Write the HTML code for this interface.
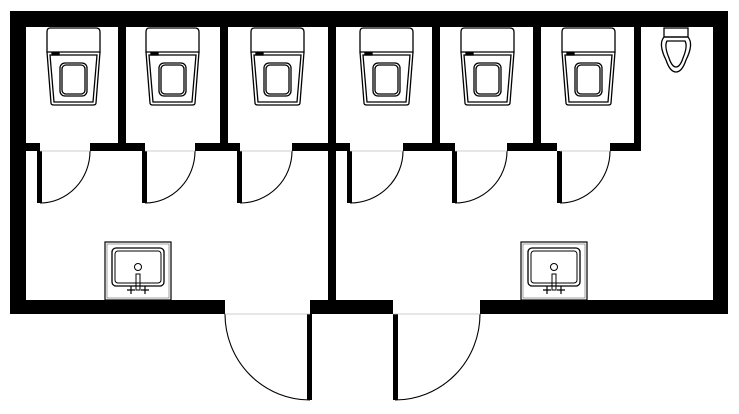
<!DOCTYPE html>
<html><head><meta charset="utf-8"><style>html,body{margin:0;padding:0;background:#fff}svg{display:block}</style></head>
<body>
<svg width="739" height="414" viewBox="0 0 739 414" xmlns="http://www.w3.org/2000/svg">
<defs>
<g id="t" fill="none" stroke="#000" stroke-width="1.3">
<path d="M3,0 H49 Q53,0 53,4 V24 H0 V4 Q0,0 3,0 Z"/>
<path d="M0,24 L4,75 Q4,77 7,77 H46 Q49,77 49,75 L53,24"/>
<path d="M3,27 L7,74 H46 L50,27 Z"/>
<rect x="13" y="35" width="27" height="33" rx="5"/>
<rect x="15" y="37" width="23" height="29" rx="4"/>
<rect x="5" y="25" width="7" height="2" fill="#000"/>
</g>
<g id="s" fill="none" stroke="#000">
<rect x="0" y="0" width="66" height="58" stroke-width="1.2"/>
<rect x="2" y="2" width="62" height="54" stroke="#888" stroke-width="0.8"/>
<rect x="7" y="6" width="52" height="38" rx="4" stroke-width="1.3"/>
<rect x="10" y="9" width="46" height="32" rx="3" stroke-width="1"/>
<circle cx="33" cy="25" r="3.5" stroke-width="1"/>
<rect x="31" y="32" width="4" height="16" stroke-width="1"/>
<path d="M22,48 h8 M26,44 v8 M36,48 h8 M40,44 v8" stroke-width="1.2"/>
</g>
</defs>
<g fill="#000">
<rect x="10" y="11" width="718" height="16"/>
<rect x="10" y="11" width="16" height="303"/>
<rect x="713" y="11" width="15" height="303"/>
<rect x="10" y="300" width="215" height="14"/>
<rect x="310" y="300" width="83" height="14"/>
<rect x="480" y="300" width="248" height="14"/>
<rect x="328" y="11" width="8" height="295"/>
<rect x="118" y="11" width="8" height="140"/>
<rect x="220" y="11" width="8" height="140"/>
<rect x="432" y="11" width="8" height="140"/>
<rect x="533" y="11" width="8" height="140"/>
<rect x="634" y="11" width="7" height="140"/>
<rect x="26" y="143" width="14" height="8"/>
<rect x="90" y="143" width="55" height="8"/>
<rect x="195" y="143" width="45" height="8"/>
<rect x="292" y="143" width="58" height="8"/>
<rect x="403" y="143" width="52" height="8"/>
<rect x="507" y="143" width="50" height="8"/>
<rect x="610" y="143" width="31" height="8"/>
<rect x="37" y="151" width="5" height="52"/>
<rect x="142" y="151" width="5" height="52"/>
<rect x="237" y="151" width="5" height="52"/>
<rect x="347" y="151" width="5" height="52"/>
<rect x="452" y="151" width="5" height="52"/>
<rect x="557" y="151" width="5" height="52"/>
<rect x="307" y="314" width="5" height="86"/>
<rect x="393" y="314" width="5" height="86"/>
</g>
<g fill="none" stroke="#000" stroke-width="1.1">
<path d="M90,151 A50,52 0 0 1 40,203"/>
<path d="M195,151 A50,52 0 0 1 145,203"/>
<path d="M292,151 A52,52 0 0 1 240,203"/>
<path d="M403,151 A53,52 0 0 1 350,203"/>
<path d="M507,151 A52,52 0 0 1 455,203"/>
<path d="M610,151 A50,52 0 0 1 560,203"/>
<path d="M225,314 A85,86 0 0 0 310,400"/>
<path d="M480,314 A85,86 0 0 1 395,400"/>
</g>
<g stroke="#bbb" stroke-width="0.8">
<line x1="40" y1="151" x2="90" y2="151"/><line x1="145" y1="151" x2="195" y2="151"/>
<line x1="240" y1="151" x2="292" y2="151"/><line x1="350" y1="151" x2="403" y2="151"/>
<line x1="455" y1="151" x2="507" y2="151"/><line x1="560" y1="151" x2="610" y2="151"/>
<line x1="225" y1="314" x2="310" y2="314"/><line x1="393" y1="314" x2="480" y2="314"/>
</g>
<use href="#t" x="47" y="28"/>
<use href="#t" x="146" y="28"/>
<use href="#t" x="251" y="28"/>
<use href="#t" x="360" y="28"/>
<use href="#t" x="461" y="28"/>
<use href="#t" x="562" y="28"/>
<use href="#s" x="105" y="242"/>
<use href="#s" x="521" y="242"/>
<g fill="none" stroke="#000" stroke-width="1.3">
<rect x="664" y="28" width="24" height="9"/>
<path d="M664,37 Q658,44 666,60 Q670,72 676,72 Q682,72 686,60 Q694,44 688,37 Z"/>
<path d="M667,41 Q664,46 669,58 Q672,67 676,67 Q680,67 683,58 Q688,46 685,41 Z"/>
</g>
</svg>
</body></html>
